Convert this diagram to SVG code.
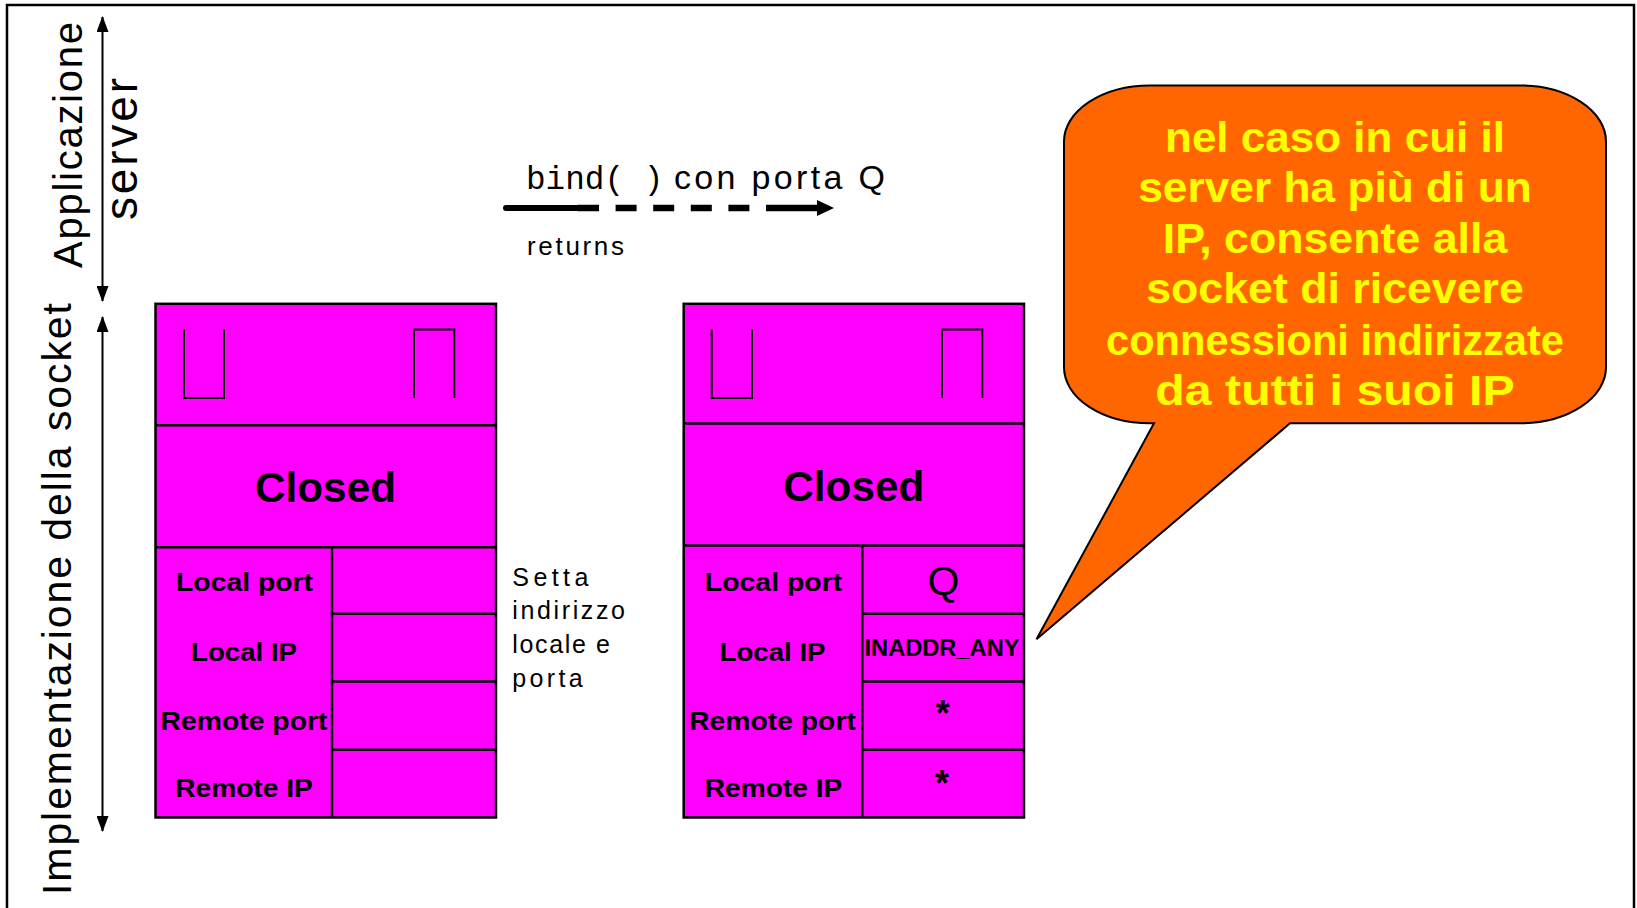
<svg xmlns="http://www.w3.org/2000/svg" width="1637" height="908" viewBox="0 0 1637 908">
<style>
.box{fill:#FF00FF;stroke:#000;stroke-width:2.5}
.ln{fill:none;stroke:#000;stroke-width:2.5}
.br{fill:none;stroke:#000;stroke-width:2}
.lbl{font-family:"Liberation Sans",Arial,sans-serif;font-weight:bold;font-size:26px;fill:#000;text-anchor:middle}
.st{font-family:"Liberation Sans",Arial,sans-serif;font-weight:bold;font-size:43px;fill:#000;text-anchor:middle}
.thin{font-family:"Liberation Sans",Arial,sans-serif;fill:#000}
.co{font-family:"Liberation Sans",Arial,sans-serif;font-weight:bold;font-size:43px;fill:#FFFF00;text-anchor:middle}
</style>
<defs>
<marker id="ah" viewBox="0 0 16 12" refX="15" refY="6" markerWidth="16" markerHeight="12" markerUnits="userSpaceOnUse" orient="auto-start-reverse">
<path d="M0,0 L16,6 L0,12 Z" fill="#000"/>
</marker>
</defs>
<rect width="1637" height="908" fill="#fff"/>
<path d="M7,908 V5 H1634 V908" fill="none" stroke="#000" stroke-width="2.5"/>

<g id="labels-left">
<text class="thin" font-size="40" textLength="246" lengthAdjust="spacing" text-anchor="middle" transform="translate(82,145) rotate(-90)">Applicazione</text>
<text class="thin" font-size="46" textLength="142" lengthAdjust="spacing" text-anchor="middle" transform="translate(137,149) rotate(-90)">server</text>
<text class="thin" font-size="41" textLength="592" lengthAdjust="spacing" text-anchor="middle" transform="translate(71,599) rotate(-90)">Implementazione della socket</text>
</g>

<g id="connectors">
<line x1="102.5" y1="17" x2="102.5" y2="301" stroke="#000" stroke-width="2" marker-start="url(#ah)" marker-end="url(#ah)"/>
<line x1="102.5" y1="317" x2="102.5" y2="831" stroke="#000" stroke-width="2" marker-start="url(#ah)" marker-end="url(#ah)"/>
<line x1="506" y1="208" x2="580" y2="208" stroke="#000" stroke-width="6" stroke-linecap="round"/>
<line x1="578" y1="208" x2="766" y2="208" stroke="#000" stroke-width="6.5" stroke-dasharray="21 16.6"/>
<line x1="766" y1="208" x2="820" y2="208" stroke="#000" stroke-width="6.5"/>
<path d="M817,200 L834,208 L817,216 Z" fill="#000"/>
</g>

<g id="call-label">
<text x="526" y="189" font-family="'Liberation Mono','Courier New',monospace" font-size="32.7" fill="#000">bind( )</text>
<text class="thin" x="674" y="189" font-size="34" textLength="211" lengthAdjust="spacing">con porta Q</text>
<text class="thin" x="527" y="255" font-size="26" textLength="97" lengthAdjust="spacing">returns</text>
</g>

<g id="socket-before">
<rect class="box" x="155.5" y="303.8" width="340.5" height="513.7"/>
<line class="ln" x1="155.5" y1="425.3" x2="496" y2="425.3"/>
<line class="ln" x1="155.5" y1="547.2" x2="496" y2="547.2"/>
<line class="ln" x1="332" y1="547.2" x2="332" y2="817.5"/>
<line class="ln" x1="332" y1="613.7" x2="496" y2="613.7"/>
<line class="ln" x1="332" y1="681.5" x2="496" y2="681.5"/>
<line class="ln" x1="332" y1="749.7" x2="496" y2="749.7"/>
<path class="br" d="M184,329.6 V398 H224 V329.6"/>
<path class="br" d="M414,398 V329.6 H454.3 V398"/>
<text class="st" x="325.5" y="501.5" textLength="141" lengthAdjust="spacingAndGlyphs">Closed</text>
<text class="lbl" x="244.5" y="591.3" textLength="137" lengthAdjust="spacingAndGlyphs">Local port</text>
<text class="lbl" x="244" y="661.2" textLength="106" lengthAdjust="spacingAndGlyphs">Local IP</text>
<text class="lbl" x="244" y="730" textLength="167" lengthAdjust="spacingAndGlyphs">Remote port</text>
<text class="lbl" x="244" y="797.2" textLength="137.7" lengthAdjust="spacingAndGlyphs">Remote IP</text>
</g>

<g id="note-setta">
<text class="thin" x="512.3" y="585.5" font-size="25" textLength="76" lengthAdjust="spacing">Setta</text>
<text class="thin" x="512.3" y="618.9" font-size="25" textLength="112.7" lengthAdjust="spacing">indirizzo</text>
<text class="thin" x="512.3" y="653.3" font-size="25" textLength="97.7" lengthAdjust="spacing">locale e</text>
<text class="thin" x="512.3" y="686.7" font-size="25" textLength="70.3" lengthAdjust="spacing">porta</text>
</g>

<g id="socket-after">
<rect class="box" x="683.7" y="303.8" width="340.3" height="513.7"/>
<line class="ln" x1="683.7" y1="423.6" x2="1024" y2="423.6"/>
<line class="ln" x1="683.7" y1="545.5" x2="1024" y2="545.5"/>
<line class="ln" x1="862.3" y1="545.5" x2="862.3" y2="817.5"/>
<line class="ln" x1="862.3" y1="613.7" x2="1024" y2="613.7"/>
<line class="ln" x1="862.3" y1="681.5" x2="1024" y2="681.5"/>
<line class="ln" x1="862.3" y1="749.7" x2="1024" y2="749.7"/>
<path class="br" d="M711.7,329.6 V398 H752 V329.6"/>
<path class="br" d="M942,398 V329.6 H982.3 V398"/>
<text class="st" x="853.8" y="500.7" textLength="141" lengthAdjust="spacingAndGlyphs">Closed</text>
<text class="lbl" x="773.5" y="591.3" textLength="137.3" lengthAdjust="spacingAndGlyphs">Local port</text>
<text class="lbl" x="772.5" y="661.2" textLength="106" lengthAdjust="spacingAndGlyphs">Local IP</text>
<text class="lbl" x="772.5" y="730" textLength="166.7" lengthAdjust="spacingAndGlyphs">Remote port</text>
<text class="lbl" x="773.5" y="797.2" textLength="137.7" lengthAdjust="spacingAndGlyphs">Remote IP</text>
<text class="thin" x="943.5" y="594.8" font-size="41" text-anchor="middle">Q</text>
<text class="lbl" x="942" y="655.7" style="font-size:24px" textLength="155" lengthAdjust="spacingAndGlyphs">INADDR_ANY</text>
<text class="lbl" x="942.7" y="726" style="font-size:36px">*</text>
<text class="lbl" x="942" y="796" style="font-size:36px">*</text>
</g>

<g id="callout">
<path d="M1150,85.5 H1520 A86 56 0 0 1 1606 141.5 V367.3 A86 56 0 0 1 1520 423.3 H1290 L1036.5 639.3 L1154 423.3 H1150 A86 56 0 0 1 1064 367.3 V141.5 A86 56 0 0 1 1150 85.5 Z" fill="#FF6600" stroke="#000" stroke-width="2"/>
<text class="co" x="1335" y="151.7" textLength="340" lengthAdjust="spacingAndGlyphs">nel caso in cui il</text>
<text class="co" x="1335" y="201.7" textLength="393.5" lengthAdjust="spacingAndGlyphs">server ha più di un</text>
<text class="co" x="1335" y="252.7" textLength="344.5" lengthAdjust="spacingAndGlyphs">IP, consente alla</text>
<text class="co" x="1335" y="303.3" textLength="377.6" lengthAdjust="spacingAndGlyphs">socket di ricevere</text>
<text class="co" x="1335" y="355" textLength="458" lengthAdjust="spacingAndGlyphs">connessioni indirizzate</text>
<text class="co" x="1335" y="405" textLength="359.3" lengthAdjust="spacingAndGlyphs">da tutti i suoi IP</text>
</g>
</svg>
